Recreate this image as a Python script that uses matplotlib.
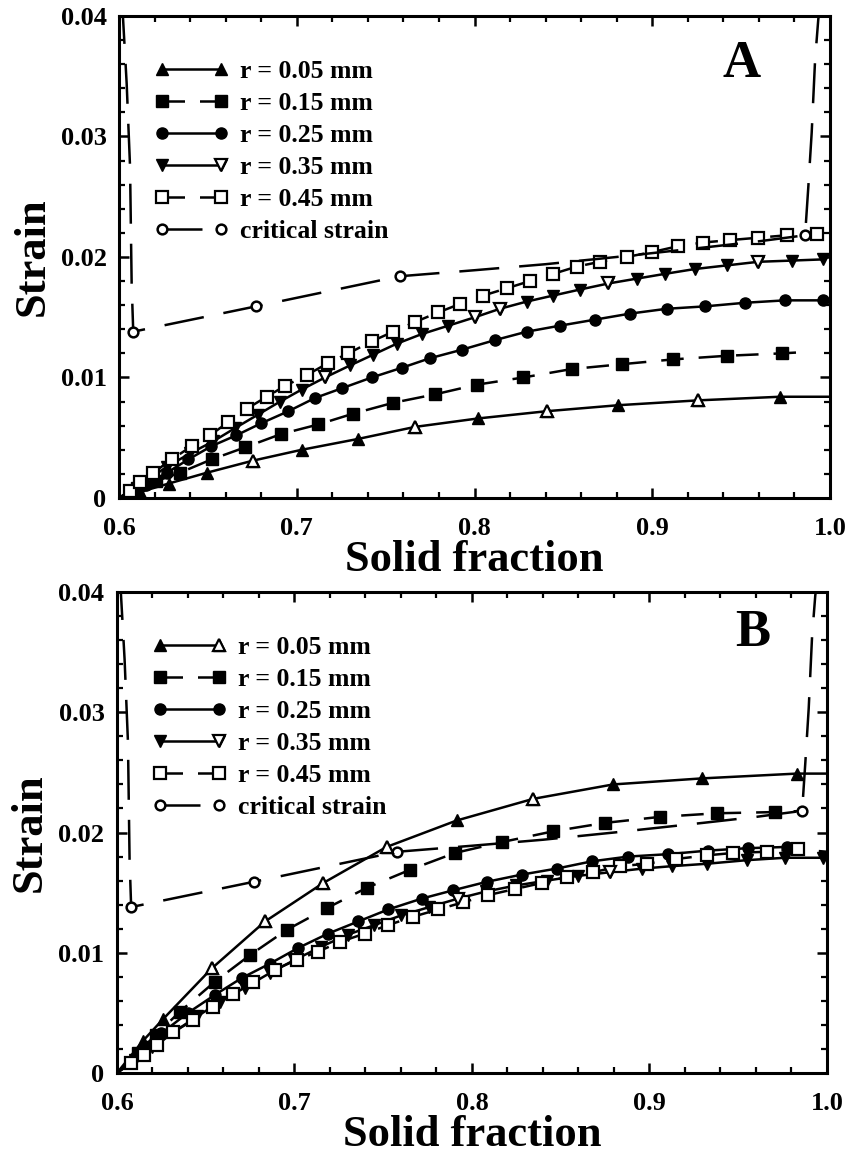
import matplotlib
matplotlib.use('Agg')
import matplotlib.pyplot as plt
from matplotlib.legend_handler import HandlerLine2D
from matplotlib.lines import Line2D
from matplotlib.ticker import MultipleLocator

# ======================
# Style
# ======================
plt.rcParams.update({
    'font.family': ['Liberation Serif', 'DejaVu Serif'],
    'font.weight': 'bold',
    'axes.labelweight': 'bold',
    'axes.linewidth': 2.2,
    'xtick.direction': 'in',
    'ytick.direction': 'in',
    'xtick.top': True,
    'ytick.right': True,
    'xtick.major.size': 7,
    'ytick.major.size': 7,
    'xtick.minor.size': 4,
    'ytick.minor.size': 4,
    'xtick.major.width': 1.8,
    'ytick.major.width': 1.8,
    'xtick.minor.width': 1.6,
    'ytick.minor.width': 1.6,
    'lines.linewidth': 1.8,
})

# ======================
# Data
# ======================
labels = ['r = 0.05 mm', 'r = 0.15 mm', 'r = 0.25 mm', 'r = 0.35 mm',
          'r = 0.45 mm', 'critical strain']

# critical strain curve (same in both panels)
crit_x = [0.6018, 0.6043, 0.6062, 0.6071, 0.6080, 0.677, 0.758, 0.80, 0.84,
          0.88, 0.93, 0.96, 0.986, 0.9878, 0.9897, 0.9916, 0.9934, 0.9945]
crit_y = [0.0410, 0.0344, 0.0275, 0.0178, 0.0138, 0.0159, 0.0184, 0.0189,
          0.0194, 0.0200, 0.0208, 0.0213, 0.0218, 0.0258, 0.0303, 0.0363,
          0.0397, 0.0410]

# panel A
a005_x = [0.600, 0.612, 0.628, 0.6495, 0.6754, 0.7028, 0.7345, 0.7666, 0.802,
          0.8406, 0.881, 0.9257, 0.9719, 1.0]
a005_y = [0.0, 0.0005, 0.0012, 0.0021, 0.0031, 0.0040, 0.0049, 0.0059, 0.0066,
          0.0072, 0.0077, 0.0081, 0.0084, 0.0084]
a015_x = [0.600, 0.610, 0.621, 0.6343, 0.6521, 0.6709, 0.6911, 0.7121, 0.7318,
          0.7543, 0.7778, 0.8012, 0.8275, 0.8547, 0.8828, 0.9118, 0.9419,
          0.9728, 0.985]
a015_y = [0.0, 0.0008, 0.0014, 0.0021, 0.0032, 0.0042, 0.0053, 0.0061, 0.0070,
          0.0079, 0.0086, 0.0094, 0.0100, 0.0107, 0.0111, 0.0115, 0.0118,
          0.0120, 0.0121]
a025_x = [0.600, 0.615, 0.627, 0.639, 0.652, 0.666, 0.680, 0.6953, 0.7103,
          0.7253, 0.7422, 0.7590, 0.775, 0.7928, 0.8115, 0.8294, 0.8481,
          0.8678, 0.8875, 0.9081, 0.9297, 0.9522, 0.9747, 0.9962]
a025_y = [0.0, 0.0011, 0.0021, 0.0032, 0.0043, 0.0052, 0.0062, 0.0072, 0.0083,
          0.0091, 0.0100, 0.0108, 0.0116, 0.0123, 0.0131, 0.0138, 0.0143,
          0.0148, 0.0153, 0.0157, 0.0159, 0.0162, 0.0164, 0.0164]
a035_x = [0.600, 0.614, 0.627, 0.640, 0.653, 0.6653, 0.678, 0.6906, 0.7028,
          0.7159, 0.730, 0.7431, 0.7562, 0.7703, 0.7853, 0.8003, 0.8143,
          0.8294, 0.8443, 0.8594, 0.8753, 0.8912, 0.9072, 0.924, 0.9419,
          0.9597, 0.9784, 0.9962]
a035_y = [0.0, 0.0013, 0.0026, 0.0037, 0.0047, 0.0058, 0.0069, 0.0080, 0.0090,
          0.0100, 0.0110, 0.0119, 0.0128, 0.0136, 0.0143, 0.0150, 0.0157,
          0.0163, 0.0168, 0.0173, 0.0178, 0.0182, 0.0186, 0.0190, 0.0193,
          0.0196, 0.0197, 0.0198]
a045_x = [0.600, 0.606, 0.612, 0.6193, 0.6296, 0.6409, 0.6512, 0.6615, 0.6718,
          0.6831, 0.6934, 0.7056, 0.7177, 0.729, 0.7422, 0.7543, 0.7665,
          0.7796, 0.7918, 0.805, 0.8181, 0.8312, 0.8443, 0.8575, 0.8706,
          0.8856, 0.8997, 0.9147, 0.9287, 0.9437, 0.9597, 0.9756, 0.9925]
a045_y = [0.0, 0.0006, 0.0013, 0.0021, 0.0032, 0.0043, 0.0052, 0.0063, 0.0074,
          0.0084, 0.0093, 0.0102, 0.0112, 0.0120, 0.0130, 0.0138, 0.0146,
          0.0154, 0.0161, 0.0168, 0.0174, 0.0180, 0.0186, 0.0192, 0.0196,
          0.0200, 0.0204, 0.0209, 0.0212, 0.0214, 0.0216, 0.0218, 0.0219]

# panel B
b005_x = [0.600, 0.6148, 0.6261, 0.6534, 0.6834, 0.7162, 0.7519, 0.7914,
          0.8345, 0.8796, 0.9294, 0.9829, 1.0]
b005_y = [0.0, 0.0027, 0.0045, 0.0087, 0.0126, 0.0158, 0.0188, 0.0210,
          0.0228, 0.0240, 0.0245, 0.0249, 0.0249]
b015_x = [0.600, 0.612, 0.622, 0.6355, 0.6552, 0.6749, 0.6956, 0.7181, 0.7407,
          0.7651, 0.7904, 0.8167, 0.8458, 0.8749, 0.9059, 0.9378, 0.9707,
          0.9867]
b015_y = [0.0, 0.0017, 0.0032, 0.0051, 0.0076, 0.0098, 0.0119, 0.0137, 0.0154,
          0.0169, 0.0183, 0.0192, 0.0201, 0.0208, 0.0213, 0.0216, 0.0217,
          0.0218]
b025_x = [0.600, 0.612, 0.625, 0.640, 0.6552, 0.6703, 0.6862, 0.7021, 0.719,
          0.7359, 0.7528, 0.7716, 0.7895, 0.8083, 0.828, 0.8477, 0.8674,
          0.888, 0.9106, 0.9331, 0.9557, 0.9773]
b025_y = [0.0, 0.0015, 0.0033, 0.0050, 0.0065, 0.0079, 0.0091, 0.0104, 0.0116,
          0.0126, 0.0136, 0.0145, 0.0152, 0.0159, 0.0165, 0.0170, 0.0176,
          0.0180, 0.0182, 0.0185, 0.0187, 0.0188]
b035_x = [0.600, 0.610, 0.620, 0.632, 0.645, 0.658, 0.672, 0.686, 0.700, 0.715,
          0.730, 0.745, 0.760, 0.776, 0.792, 0.808, 0.825, 0.842, 0.860,
          0.878, 0.896, 0.9125, 0.9322, 0.9548, 0.9763, 0.998]
b035_y = [0.0, 0.0011, 0.0022, 0.0034, 0.0047, 0.0059, 0.0071, 0.0083, 0.0094,
          0.0105, 0.0115, 0.0123, 0.0131, 0.0138, 0.0145, 0.0151, 0.0156,
          0.0160, 0.0164, 0.0167, 0.0170, 0.0172, 0.0174, 0.0177, 0.0179,
          0.0179]
b045_x = [0.600, 0.608, 0.615, 0.6224, 0.6317, 0.643, 0.6543, 0.6655, 0.6768,
          0.689, 0.7012, 0.7134, 0.7256, 0.7397, 0.7528, 0.7669, 0.781,
          0.7951, 0.8092, 0.8242, 0.8393, 0.8534, 0.8683, 0.8834, 0.8984,
          0.915, 0.9322, 0.9472, 0.966, 0.9838, 1.0]
b045_y = [0.0, 0.0008, 0.0015, 0.0023, 0.0034, 0.0044, 0.0055, 0.0066, 0.0076,
          0.0086, 0.0094, 0.0101, 0.0109, 0.0116, 0.0123, 0.0130, 0.0136,
          0.0142, 0.0148, 0.0153, 0.0158, 0.0163, 0.0167, 0.0172, 0.0174,
          0.0178, 0.0181, 0.0183, 0.0184, 0.0186, 0.0184]

x_ticks = [0.6, 0.7, 0.8, 0.9, 1.0]
x_ticklabels = ['0.6', '0.7', '0.8', '0.9', '1.0']
y_ticks = [0, 0.01, 0.02, 0.03, 0.04]
y_ticklabels = ['0', '0.01', '0.02', '0.03', '0.04']

# ======================
# Line styles
# ======================
styles = [
    dict(marker='^', ms=9, ls='-'),
    dict(marker='s', ms=8, dashes=(9, 6)),
    dict(marker='o', ms=8, ls='-'),
    dict(marker='v', ms=9, ls='-'),
    dict(marker='s', ms=8, mfc='white', mew=1.6, dashes=(9, 6)),
    dict(marker='o', ms=7, mfc='white', mew=1.8, dashes=(16, 8)),
]


class OpenRightHandler(HandlerLine2D):
    # legend entry with a filled marker on the left and an open one on the right
    def create_artists(self, legend, orig_handle, xdescent, ydescent,
                       width, height, fontsize, trans):
        arts = super().create_artists(legend, orig_handle, xdescent, ydescent,
                                      width, height, fontsize, trans)
        xd, yd = arts[0].get_data()
        cap = Line2D([xd[-1]], [yd[-1]], ls='none',
                     marker=orig_handle.get_marker(),
                     ms=orig_handle.get_markersize(), mfc='white', mec='black',
                     mew=1.6, transform=trans)
        return arts + [cap]


def draw_panel(ax, series, marks, open_pts, open_right, letter, letter_xy):
    handles = []
    for i, (xs, ys) in enumerate(series):
        st = dict(styles[i])
        mfc = st.pop('mfc', 'black')
        line, = ax.plot(xs, ys, color='black', mfc=mfc, mec='black',
                        markevery=marks[i], label=labels[i], **st)
        handles.append(line)
        if open_pts[i]:
            ax.plot([xs[k] for k in open_pts[i]], [ys[k] for k in open_pts[i]],
                    ls='none', marker=st['marker'], ms=st['ms'], mfc='white',
                    mec='black', mew=1.6, zorder=3)

    hmap = {handles[i]: OpenRightHandler() for i in open_right}
    ax.legend(handles=handles, loc='upper left', bbox_to_anchor=(0.035, 0.93),
              frameon=False, numpoints=2, handlelength=2.9, handletextpad=0.45,
              labelspacing=0.35, borderaxespad=0, handler_map=hmap,
              prop={'weight': 'bold', 'size': 18.5})

    ax.text(letter_xy[0], letter_xy[1], letter, transform=ax.transAxes,
            fontsize=38, fontweight='bold', ha='center', va='center')

    ax.set_xlim(0.6, 1.0)
    ax.set_ylim(0, 0.04)
    ax.set_xticks(x_ticks)
    ax.set_xticklabels(x_ticklabels)
    ax.set_yticks(y_ticks)
    ax.set_yticklabels(y_ticklabels)
    ax.xaxis.set_minor_locator(MultipleLocator(0.02))
    ax.yaxis.set_minor_locator(MultipleLocator(0.002))
    ax.tick_params(axis='x', which='both', labelsize=19, pad=14)
    ax.tick_params(axis='y', which='both', labelsize=19, pad=9)
    ax.set_xlabel('Solid fraction', fontsize=32, labelpad=0)
    ax.set_ylabel('Strain', fontsize=32, labelpad=6)


# ======================
# Figure
# ======================
fig = plt.figure(figsize=(8.6, 11.57), dpi=100)
ax_a = fig.add_axes([0.1384, 0.5696, 0.8267, 0.4166])
ax_b = fig.add_axes([0.1360, 0.0726, 0.8256, 0.4157])

crit_marks = [4, 5, 6, 12]

draw_panel(ax_a,
           [(a005_x, a005_y), (a015_x, a015_y), (a025_x, a025_y),
            (a035_x, a035_y), (a045_x, a045_y), (crit_x, crit_y)],
           [slice(1, -1), slice(1, -1), slice(1, None), slice(1, None),
            slice(1, None), crit_marks],
           [[4, 7, 9, 11], [], [], [9, 15, 16, 20, 25], [], []],
           [3], 'A', (0.875, 0.90))

draw_panel(ax_b,
           [(b005_x, b005_y), (b015_x, b015_y), (b025_x, b025_y),
            (b035_x, b035_y), (b045_x, b045_y), (crit_x, crit_y)],
           [slice(1, -1), slice(1, -1), slice(1, None), slice(1, None),
            slice(1, -1), crit_marks],
           [[3, 4, 5, 6, 8], [], [], [14, 19], [], []],
           [0, 3], 'B', (0.895, 0.915))

fig.savefig('out.png', dpi=100)
